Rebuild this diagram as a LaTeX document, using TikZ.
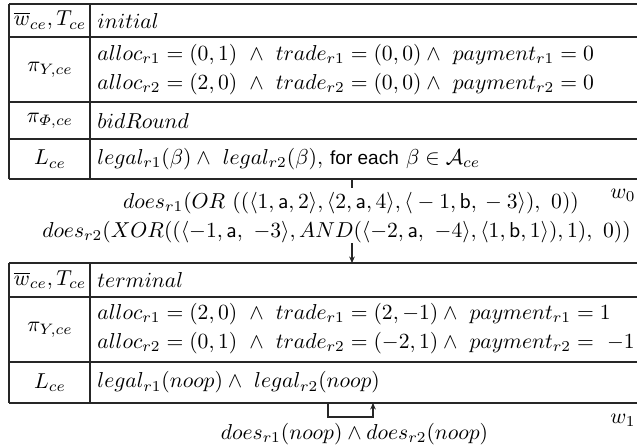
\documentclass[tikz,border=0pt]{standalone}
\usepackage{fontspec}
\newfontfamily\hsans{Liberation Sans}
\usetikzlibrary{arrows.meta}
\begin{document}
\begin{tikzpicture}[x=0.463pt,y=-0.463pt,
  rule/.style={line width=0.72pt, draw=black!85},
  lc/.style={inner sep=0pt, anchor=center},
  rc/.style={inner sep=0pt, anchor=west},
  conn/.style={line width=0.5pt, draw=black!85},
  tip/.style={-{Stealth[length=3pt,width=2.6pt]}},
  wlab/.style={inner sep=0pt}
]
\useasboundingbox (0,0) rectangle (637,446);
% ---------- table 1 ----------
\draw[rule] (9,4) -- (637,4) (9,37) -- (637,37) (9,102) -- (637,102)
            (9,139) -- (637,139) (9,179) -- (637,179);
\draw[rule] (9,4) -- (9,179) (90,4) -- (90,179);
\node[lc] (a1) at (50,20.5) {$\overline{w}_{ce}, T_{ce}$};
\node[rc] (b1) at (97,20.5) {$initial$};
\node[lc] (a2) at (50,69.5) {$\pi_{Y\!,ce}$};
\node[rc] (b2a) at (97,55) {$alloc_{r1} = (0,1)\ \wedge\ trade_{r1} = (0,0) \wedge\ payment_{r1} = 0$};
\node[rc] (b2b) at (97,84) {$alloc_{r2} = (2,0)\ \wedge\ trade_{r2} = (0,0) \wedge\ payment_{r2} = 0$};
\node[lc] (a3) at (50,120.5) {$\pi_{\mathnormal{\Phi},ce}$};
\node[rc] (b3) at (97,120.5) {$bidRound$};
\node[lc] (a4) at (50,159) {$L_{ce}$};
\node[rc] (b4) at (97,159) {$legal_{r1}(\beta) \wedge\ legal_{r2}(\beta),$\ {\hsans\fontsize{8.8}{10}\selectfont for each} $\beta \in \mathcal{A}_{ce}$};
% ---------- transition w0 ----------
\coordinate (t1) at (352,179);
\coordinate (t1e) at (352,188);
\coordinate (t2s) at (352,243);
\coordinate (t2) at (352,263);
\draw[conn] (t1) -- (t1e);
\draw[conn,tip] (t2s) -- (t2);
\node[inner sep=0pt] (m1) at (351,203) {$does_{r1}(OR\ ((\langle 1, \mathsf{a}, 2\rangle, \langle 2, \mathsf{a}, 4\rangle, \langle {}-1, \mathsf{b}, {}-3\rangle),\ 0))$};
\node[inner sep=0pt] (m2) at (336.5,232) {$does_{r2}(XOR((\langle -1, \mathsf{a},\ -3\rangle, AND(\langle -2, \mathsf{a},\ -4\rangle, \langle 1, \mathsf{b}, 1\rangle), 1),\ 0))$};
\node[wlab] (w0) at (623,195) {$w_0$};
% ---------- table 2 ----------
\draw[rule] (9,263) -- (637,263) (9,297) -- (637,297) (9,362) -- (637,362)
            (9,403) -- (637,403);
\draw[rule] (9,263) -- (9,403) (90,263) -- (90,403);
\node[lc] (c1) at (50,280) {$\overline{w}_{ce}, T_{ce}$};
\node[rc] (d1) at (97,280) {$terminal$};
\node[lc] (c2) at (50,329.5) {$\pi_{Y\!,ce}$};
\node[rc] (d2a) at (97,314) {$alloc_{r1} = (2,0)\ \wedge\ trade_{r1} = (2,-1) \wedge\ payment_{r1} = 1$};
\node[rc] (d2b) at (97,343) {$alloc_{r2} = (0,1)\ \wedge\ trade_{r2} = (-2,1) \wedge\ payment_{r2} = \ -1$};
\node[lc] (c3) at (50,382.5) {$L_{ce}$};
\node[rc] (d3) at (97,382.5) {$legal_{r1}(noop) \wedge\ legal_{r2}(noop)$};
% ---------- transition w1 ----------
\coordinate (l1) at (328,403);
\coordinate (l2) at (373,403);
\draw[conn,tip] (l1) -- ++(0,14) -| (l2);
\node[inner sep=0pt] (m3) at (354.5,434) {$does_{r1}(noop) \wedge does_{r2}(noop)$};
\node[wlab] (w1) at (623,420) {$w_1$};
\end{tikzpicture}
\end{document}
